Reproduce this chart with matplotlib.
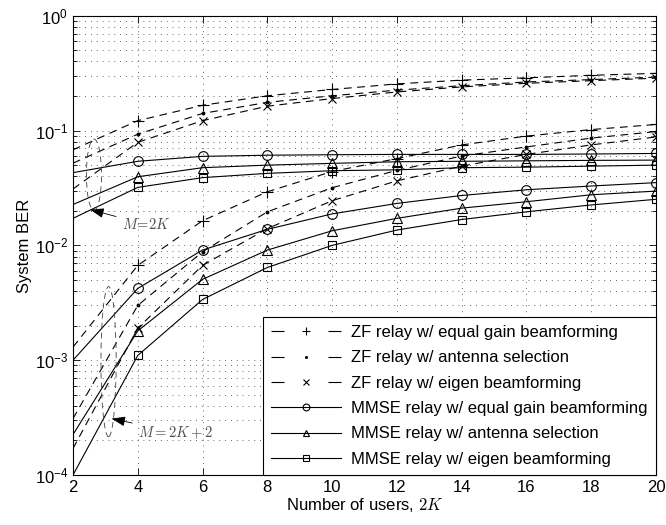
import matplotlib
matplotlib.use('Agg')
import matplotlib.pyplot as plt
from matplotlib.patches import Ellipse
import numpy as np

plt.rcParams['font.family'] = ['Liberation Sans', 'DejaVu Sans']
plt.rcParams['mathtext.fontset'] = 'cm'
plt.rcParams['font.size'] = 12

users = [2, 4, 6, 8, 10, 12, 14, 16, 18, 20]

# M = 2K
zf_egb_a = [0.068, 0.122, 0.166, 0.201, 0.228, 0.255, 0.275, 0.288, 0.303, 0.315]
zf_as_a = [0.052, 0.093, 0.141, 0.176, 0.201, 0.225, 0.246, 0.265, 0.278, 0.292]
zf_eig_a = [0.031, 0.079, 0.122, 0.163, 0.190, 0.217, 0.240, 0.258, 0.272, 0.286]
mmse_egb_a = [0.043, 0.054, 0.0596, 0.061, 0.0616, 0.062, 0.062, 0.062, 0.0625, 0.0632]
mmse_as_a = [0.0227, 0.0396, 0.0475, 0.050, 0.0518, 0.0535, 0.054, 0.0545, 0.055, 0.0553]
mmse_eig_a = [0.0172, 0.032, 0.0389, 0.0424, 0.0447, 0.0455, 0.0475, 0.048, 0.049, 0.050]

# M = 2K + 2
zf_egb_b = [0.0013, 0.0067, 0.0164, 0.0293, 0.044, 0.057, 0.075, 0.0895, 0.102, 0.113]
zf_as_b = [0.00031, 0.003, 0.0088, 0.0196, 0.0318, 0.045, 0.060, 0.072, 0.086, 0.098]
zf_eig_b = [0.00017, 0.0019, 0.0067, 0.014, 0.0245, 0.0365, 0.049, 0.062, 0.075, 0.088]
mmse_egb_b = [0.001, 0.00422, 0.00911, 0.0138, 0.0188, 0.0232, 0.0272, 0.0305, 0.0329, 0.0352]
mmse_as_b = [0.000225, 0.0018, 0.00506, 0.0091, 0.0134, 0.0172, 0.0211, 0.024, 0.0276, 0.0297]
mmse_eig_b = [0.0001, 0.0011, 0.00338, 0.00642, 0.010, 0.0136, 0.0168, 0.0196, 0.0225, 0.0252]

labels = ['ZF relay w/ equal gain beamforming',
          'ZF relay w/ antenna selection',
          'ZF relay w/ eigen beamforming',
          'MMSE relay w/ equal gain beamforming',
          'MMSE relay w/ antenna selection',
          'MMSE relay w/ eigen beamforming']

series_a = [zf_egb_a, zf_as_a, zf_eig_a, mmse_egb_a, mmse_as_a, mmse_eig_a]
series_b = [zf_egb_b, zf_as_b, zf_eig_b, mmse_egb_b, mmse_as_b, mmse_eig_b]
markers = ['+', '.', 'x', 'o', '^', 's']
msizes = [8, 4, 6, 7, 7, 6]
dashed = (0, (7, 5))

fig = plt.figure(figsize=(6.66, 5.25), dpi=100)
ax = fig.add_axes([0.1096, 0.0952, 0.8754, 0.8748])

for i in range(6):
    ls = dashed if i < 3 else '-'
    for data, lab in ((series_a, labels[i]), (series_b, None)):
        ax.plot(users, data[i], color='k', lw=0.8, ls=ls, marker=markers[i],
                ms=msizes[i], mfc='none' if i >= 3 else 'k', mec='k', mew=0.8,
                markevery=slice(1, None), label=lab, zorder=3)

ax.set_yscale('log')
ax.set_xlim(2, 20)
ax.set_ylim(1e-4, 1)
ax.set_xticks(np.arange(2, 21, 2))
ax.tick_params(which='both', direction='in', top=True, right=True, labelsize=12)
ax.tick_params(which='major', length=5, width=0.6)
ax.tick_params(which='minor', length=3, width=0.6)
for s in ax.spines.values():
    s.set_linewidth(0.8)

ax.grid(True, which='major', axis='both', color='0.2', lw=0.6, ls=(0, (1, 6)))
ax.grid(True, which='minor', axis='y', color='0.2', lw=0.6, ls=(0, (1, 6)))
ax.set_axisbelow(True)

ax.set_xlabel('Number of users, $2K$', fontsize=12, labelpad=1)
ax.set_ylabel('System BER', fontsize=12, labelpad=2)

# group markers
ax.add_patch(Ellipse((0.036, 0.654), 0.026, 0.155, transform=ax.transAxes,
                     fill=False, ec='0.25', lw=0.6, ls=(0, (7, 5)), zorder=4))
ax.add_patch(Ellipse((0.061, 0.247), 0.026, 0.327, transform=ax.transAxes,
                     fill=False, ec='0.25', lw=0.6, ls=(0, (7, 5)), zorder=4))

arrow = dict(arrowstyle='-|>,head_length=0.7,head_width=0.25', color='k',
             lw=0.6, shrinkA=2, shrinkB=0, mutation_scale=12)
ax.annotate('$M\\!=\\!2K$', xy=(2.53, 0.0205), xytext=(3.5, 0.0152),
            fontsize=10.5, color='0.3', ha='left', va='center', arrowprops=arrow)
ax.annotate('$M=2K+2$', xy=(3.19, 0.00031), xytext=(4.0, 0.000236),
            fontsize=10.5, color='0.3', ha='left', va='center', arrowprops=arrow)

leg = ax.legend(loc='lower right', borderaxespad=0, fancybox=False,
                edgecolor='k', framealpha=1, fontsize=12, handlelength=4.2,
                handletextpad=0.6, borderpad=0.5, labelspacing=0.62,
                markerscale=0.7)
leg.get_frame().set_linewidth(0.8)
for ln in leg.get_lines()[:3]:
    ln.set_linestyle((0, (11.7, 39.6)))

fig.savefig('out.png', dpi=100)
